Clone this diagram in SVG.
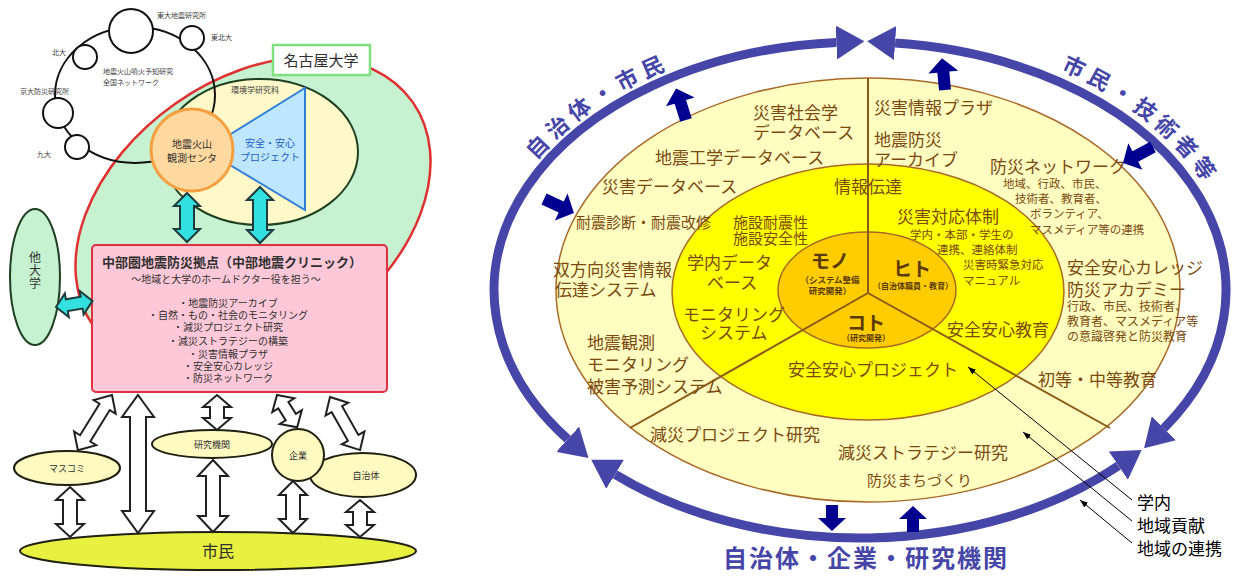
<svg xmlns="http://www.w3.org/2000/svg" width="1241" height="577" viewBox="0 0 1241 577">
<style>
text{font-family:"Noto Sans CJK JP","Noto Sans",sans-serif}
.tiny{font-size:7px;fill:#404040}
.pk{fill:#303030;font-size:10px;text-anchor:middle}
.br{fill:#7a4a12;font-size:17px}
.bs{fill:#7a4a12;font-size:11.5px}
.ctr{text-anchor:middle}
.blue{fill:#4646a8;font-weight:bold}
.wa{fill:#fff;stroke:#202020;stroke-width:2;stroke-linejoin:miter}
.ca{fill:#33e0e0;stroke:#1e3c3c;stroke-width:2}
.da{fill:#000090}
.ring{fill:none;stroke:#4646a8;stroke-width:9}
.sec{stroke:#8b5a1a;stroke-width:2;fill:none}
.ptr{stroke:#000;stroke-width:1;fill:none}
.net{fill:#fff;stroke:#111;stroke-width:2}
.eo{stroke:#202010;stroke-width:2}
.in{fill:#5a3a08;font-weight:bold;text-anchor:middle}
</style>
<defs>
<marker id="bh" markerUnits="userSpaceOnUse" markerWidth="30" markerHeight="34" refX="0" refY="17" orient="auto-start-reverse" viewBox="0 0 30 34"><path d="M0,0 L28,17 L0,34 Z" fill="#4646a8"/></marker>
<marker id="pa" markerUnits="userSpaceOnUse" markerWidth="8" markerHeight="6" refX="8" refY="3" orient="auto" viewBox="0 0 8 6"><path d="M0,0 L8,3 L0,6 Z" fill="#000"/></marker>
<path id="arcL" d="M 494.6,232.2 A 375 257 0 0 1 750.3,44.2"/>
<path id="arcR" d="M 995.5,47.3 A 378 260 0 0 1 1233.3,249.3"/>
</defs>
<rect width="1241" height="577" fill="#fff"/>

<!-- LEFT DIAGRAM -->
<g id="nagoya-univ-area">
<ellipse cx="253" cy="214" rx="195" ry="135" transform="rotate(-35 253 214)" fill="#c6f2d2" stroke="#e03030" stroke-width="2.5"/>
</g>
<g id="env-grad-school">
<ellipse cx="260" cy="152" rx="98" ry="73" fill="#fff8c8" stroke="#1e4020" stroke-width="2"/>
<text x="255" y="93" class="tiny ctr" style="font-size:8px">環境学研究科</text>
</g>
<g id="network">
<ellipse cx="135" cy="95" rx="80" ry="68" fill="none" stroke="#111" stroke-width="2"/>
<circle cx="131" cy="31" r="22" class="net"/>
<circle cx="192" cy="38" r="12" class="net"/>
<circle cx="85" cy="57" r="12" class="net"/>
<circle cx="58" cy="113" r="15" class="net"/>
<circle cx="77" cy="147" r="12" class="net"/>
<text x="157" y="18" class="tiny">東大地震研究所</text>
<text x="211" y="40" class="tiny">東北大</text>
<text x="52" y="55" class="tiny">北大</text>
<text x="20" y="94" class="tiny">京大防災研究所</text>
<text x="37" y="157" class="tiny">九大</text>
<text x="103" y="74" class="tiny">地震火山噴火予知研究</text>
<text x="103" y="85" class="tiny">全国ネットワーク</text>
</g>
<g id="anzen-project">
<path d="M205,150 L305,88 L305,210 Z" fill="#bfe6ff" stroke="#2f7fd8" stroke-width="2"/>
<text x="270" y="147" class="ctr" style="font-size:10px;fill:#2060c0">安全・安心</text>
<text x="270" y="161" class="ctr" style="font-size:10px;fill:#2060c0">プロジェクト</text>
</g>
<g id="center-obs">
<circle cx="192" cy="150" r="41" fill="#ffd9a0" stroke="#f5a040" stroke-width="3"/>
<text x="192" y="148" class="pk" style="font-size:10px">地震火山</text>
<text x="192" y="162" class="pk" style="font-size:10px">観測センタ</text>
</g>
<g id="nagoya-label">
<rect x="273" y="45" width="97" height="30" fill="#fff" stroke="#80e080" stroke-width="2.5"/>
<text x="321" y="66" class="ctr" style="font-size:15px;fill:#303030">名古屋大学</text>
</g>
<g id="other-univ">
<ellipse cx="35" cy="277" rx="25" ry="68" fill="#c6f2d2" stroke="#1e4020" stroke-width="2"/>
<text x="35" y="262" class="ctr" style="font-size:12px;fill:#303030">他</text>
<text x="35" y="275" class="ctr" style="font-size:12px;fill:#303030">大</text>
<text x="35" y="288" class="ctr" style="font-size:12px;fill:#303030">学</text>
</g>
<g id="chubu-clinic">
<rect x="92" y="245" width="295" height="147" rx="4" fill="#ffc8d8" stroke="#e03040" stroke-width="2"/>
<text x="232" y="267" class="pk" style="font-size:13px;font-weight:bold">中部圏地震防災拠点（中部地震クリニック）</text>
<text x="226" y="283" class="pk">〜地域と大学のホームドクター役を担う〜</text>
<text x="228" y="307" class="pk">・地震防災アーカイブ</text>
<text x="228" y="319" class="pk">・自然・もの・社会のモニタリング</text>
<text x="228" y="331" class="pk">・減災プロジェクト研究</text>
<text x="228" y="345" class="pk">・減災ストラテジーの構築</text>
<text x="228" y="358" class="pk">・災害情報プラザ</text>
<text x="228" y="370" class="pk">・安全安心カレッジ</text>
<text x="228" y="382" class="pk">・防災ネットワーク</text>
</g>
<g id="masukomi">
<ellipse cx="67" cy="468" rx="53" ry="17" fill="#fffac0" class="eo"/>
<text x="67" y="472" class="pk" style="font-size:9px">マスコミ</text>
</g>
<g id="research-inst">
<ellipse cx="212" cy="444" rx="60" ry="14" fill="#fffac0" class="eo"/>
<text x="212" y="448" class="pk" style="font-size:9px">研究機関</text>
</g>
<g id="jichitai">
<ellipse cx="363" cy="475" rx="53" ry="22" fill="#fffac0" class="eo"/>
<text x="366" y="479" class="pk" style="font-size:9px">自治体</text>
</g>
<g id="kigyo">
<circle cx="298" cy="455" r="26" fill="#fffac0" class="eo"/>
<text x="298" y="459" class="pk" style="font-size:9px">企業</text>
</g>
<g id="shimin-left">
<ellipse cx="218" cy="551" rx="198" ry="19" fill="#e8f040" class="eo"/>
<text x="218" y="557" class="pk" style="font-size:16px">市民</text>
</g>
<g id="left-connectors">
<path class="ca" transform="translate(187,193)" d="M0,0 L13,13 L7,13 L7,36 L13,36 L0,49 L-13,36 L-7,36 L-7,13 L-13,13 Z"/>
<path class="ca" transform="translate(260,187)" d="M0,0 L13,13 L7,13 L7,43 L13,43 L0,56 L-13,43 L-7,43 L-7,13 L-13,13 Z"/>
<path class="ca" transform="translate(56,307) rotate(-99.5)" d="M0,0 L12,11 L6,11 L6,26 L12,26 L0,37 L-12,26 L-6,26 L-6,11 L-12,11 Z"/>
<path class="wa" transform="translate(112,395) rotate(31.7)" d="M0,0 L13,14 L6,14 L6,51 L13,51 L0,65 L-13,51 L-6,51 L-6,14 L-13,14 Z"/>
<path class="wa" transform="translate(138,395)" d="M0,0 L16,22 L8,22 L8,116 L16,116 L0,138 L-16,116 L-8,116 L-8,22 L-16,22 Z"/>
<path class="wa" transform="translate(217,395)" d="M0,0 L14,12 L7,12 L7,23 L14,23 L0,35 L-14,23 L-7,23 L-7,12 L-14,12 Z"/>
<path class="wa" transform="translate(277,395) rotate(-32)" d="M0,0 L13,12 L6,12 L6,26 L13,26 L0,38 L-13,26 L-6,26 L-6,12 L-13,12 Z"/>
<path class="wa" transform="translate(330,397) rotate(-29.5)" d="M0,0 L13,14 L6,14 L6,47 L13,47 L0,61 L-13,47 L-6,47 L-6,14 L-13,14 Z"/>
<path class="wa" transform="translate(70,487)" d="M0,0 L14,13 L7,13 L7,37 L14,37 L0,50 L-14,37 L-7,37 L-7,13 L-14,13 Z"/>
<path class="wa" transform="translate(213,460)" d="M0,0 L15,16 L7,16 L7,56 L15,56 L0,72 L-15,56 L-7,56 L-7,16 L-15,16 Z"/>
<path class="wa" transform="translate(293,481)" d="M0,0 L14,14 L7,14 L7,38 L14,38 L0,52 L-14,38 L-7,38 L-7,14 L-14,14 Z"/>
<path class="wa" transform="translate(360,500)" d="M0,0 L14,12 L7,12 L7,25 L14,25 L0,37 L-14,25 L-7,25 L-7,12 L-14,12 Z"/>
</g>

<!-- RIGHT DIAGRAM -->
<g id="outer-ring-area">
<ellipse cx="868" cy="290" rx="312" ry="212" fill="#fffdc0" stroke="#a86a28" stroke-width="1.5"/>
</g>
<g id="middle-ring-area">
<ellipse cx="868" cy="292" rx="196" ry="128" fill="#ffff00" stroke="#a86a28" stroke-width="1.5"/>
</g>
<g id="inner-area">
<ellipse cx="867" cy="290" rx="89" ry="58" fill="#ffcc00" stroke="#a86a28" stroke-width="1.5"/>
</g>
<g id="sectors">
<line class="sec" x1="868" y1="78" x2="868" y2="293"/>
<line class="sec" x1="868" y1="293" x2="630" y2="428"/>
<line class="sec" x1="868" y1="293" x2="1110" y2="428"/>
</g>
<g id="outer-texts">
<text x="753" y="119" class="br">災害社会学</text>
<text x="753" y="139" class="br">データベース</text>
<text x="655" y="164" class="br">地震工学データベース</text>
<text x="602" y="193" class="br">災害データベース</text>
<text x="576" y="228" class="br" style="font-size:15px">耐震診断・耐震改修</text>
<text x="553" y="276" class="br">双方向災害情報</text>
<text x="555" y="296" class="br">伝達システム</text>
<text x="587" y="349" class="br">地震観測</text>
<text x="587" y="371" class="br">モニタリング</text>
<text x="587" y="393" class="br">被害予測システム</text>
<text x="874" y="114" class="br">災害情報プラザ</text>
<text x="874" y="146" class="br">地震防災</text>
<text x="874" y="166" class="br">アーカイブ</text>
<text x="990" y="173" class="br">防災ネットワーク</text>
<text x="1003" y="188" class="bs">地域、行政、市民、</text>
<text x="1015" y="203" class="bs">技術者、教育者、</text>
<text x="1030" y="218" class="bs">ボランティア、</text>
<text x="1030" y="234" class="bs">マスメディア等の連携</text>
<text x="1067" y="274" class="br">安全安心カレッジ</text>
<text x="1067" y="296" class="br">防災アカデミー</text>
<text x="1067" y="311" class="bs" style="font-size:12px">行政、市民、技術者、</text>
<text x="1067" y="326" class="bs" style="font-size:12px">教育者、マスメディア等</text>
<text x="1067" y="341" class="bs" style="font-size:12px">の意識啓発と防災教育</text>
<text x="1038" y="386" class="br">初等・中等教育</text>
<text x="650" y="441" class="br">減災プロジェクト研究</text>
<text x="838" y="459" class="br">減災ストラテジー研究</text>
<text x="867" y="486" class="br" style="font-size:15px">防災まちづくり</text>
</g>
<g id="middle-texts">
<text x="834" y="193" class="br">情報伝達</text>
<text x="733" y="228" class="br" style="font-size:15px">施設耐震性</text>
<text x="733" y="244" class="br" style="font-size:15px">施設安全性</text>
<text x="687" y="269" class="br">学内データ</text>
<text x="707" y="289" class="br">ベース</text>
<text x="683" y="321" class="br">モニタリング</text>
<text x="700" y="339" class="br">システム</text>
<text x="897" y="223" class="br">災害対応体制</text>
<text x="910" y="239" class="bs">学内・本部・学生の</text>
<text x="937" y="254" class="bs">連携、連絡体制</text>
<text x="963" y="269" class="bs">災害時緊急対応</text>
<text x="963" y="285" class="bs">マニュアル</text>
<text x="947" y="336" class="br">安全安心教育</text>
<text x="788" y="376" class="br">安全安心プロジェクト</text>
</g>
<g id="inner-texts">
<text x="830" y="268" class="in" style="font-size:19px">モノ</text>
<text x="830" y="283" class="in" style="font-size:8.5px">（システム整備</text>
<text x="830" y="294" class="in" style="font-size:8.5px">研究開発）</text>
<text x="912" y="276" class="in" style="font-size:19px">ヒト</text>
<text x="913" y="289" class="in" style="font-size:8px">（自治体職員・教育）</text>
<text x="866" y="330" class="in" style="font-size:19px">コト</text>
<text x="866" y="341" class="in" style="font-size:8px">（研究開発）</text>
</g>
<g id="blue-ring">
<path class="ring" d="M 567.7,439.2 A 366 248 0 0 1 836.4,42.5" marker-start="url(#bh)" marker-end="url(#bh)"/>
<path class="ring" d="M 895.1,43.1 A 366 248 0 0 1 1163.8,428.3" marker-start="url(#bh)" marker-end="url(#bh)"/>
<path class="ring" d="M 1118.4,465.7 A 366 248 0 0 1 615.1,474.3" marker-start="url(#bh)" marker-end="url(#bh)"/>
</g>
<g id="small-arrows">
<path class="da" transform="translate(686,120) rotate(162.6)" d="M-6,0 L6,0 L6,19 L15,19 L0,33 L-15,19 L-6,19 Z"/>
<path class="da" transform="translate(544,199) rotate(-65)" d="M-6,0 L6,0 L6,19 L15,19 L0,33 L-15,19 L-6,19 Z"/>
<path class="da" transform="translate(945,90) rotate(174.6)" d="M-6,0 L6,0 L6,18 L15,18 L0,32 L-15,18 L-6,18 Z"/>
<path class="da" transform="translate(1153,147) rotate(61.9)" d="M-6,0 L6,0 L6,20 L15,20 L0,34 L-15,20 L-6,20 Z"/>
<path class="da" transform="translate(832,505)" d="M-6,0 L6,0 L6,13 L14,13 L0,26 L-14,13 L-6,13 Z"/>
<path class="da" transform="translate(913,532) rotate(180)" d="M-6,0 L6,0 L6,13 L14,13 L0,26 L-14,13 L-6,13 Z"/>
</g>
<g id="ring-labels">
<text class="blue" style="font-size:22px;letter-spacing:5.5px"><textPath href="#arcL" startOffset="50%" text-anchor="middle">自治体・市民</textPath></text>
<text class="blue" style="font-size:22px;letter-spacing:5px"><textPath href="#arcR" startOffset="50%" text-anchor="middle">市民・技術者等</textPath></text>
<text x="866" y="567" class="blue ctr" style="font-size:24px;letter-spacing:2px">自治体・企業・研究機関</text>
</g>
<g id="pointers">
<line class="ptr" x1="1132" y1="500" x2="968" y2="367" marker-end="url(#pa)"/>
<line class="ptr" x1="1132" y1="521" x2="1023" y2="432" marker-end="url(#pa)"/>
<line class="ptr" x1="1132" y1="543" x2="1080" y2="500" marker-end="url(#pa)"/>
<text x="1137" y="509" style="font-size:17px;fill:#000">学内</text>
<text x="1137" y="532" style="font-size:17px;fill:#000">地域貢献</text>
<text x="1137" y="555" style="font-size:17px;fill:#000">地域の連携</text>
</g>
</svg>
